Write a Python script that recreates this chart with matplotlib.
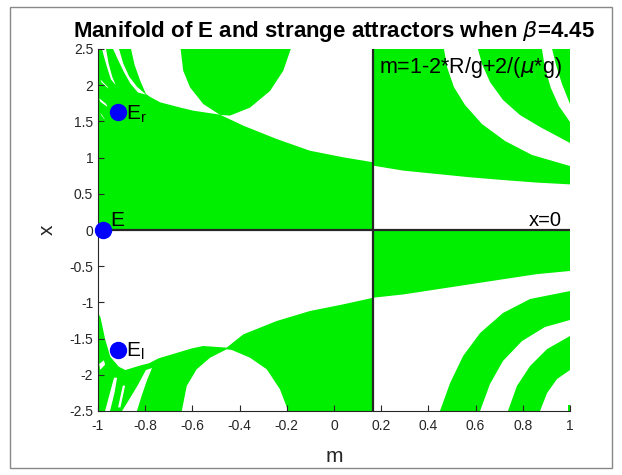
import matplotlib
matplotlib.use("Agg")
import matplotlib.pyplot as plt
from matplotlib.patches import Polygon, Rectangle

plt.rcParams['font.family'] = ['Liberation Sans', 'DejaVu Sans']
plt.rcParams['axes.unicode_minus'] = False

GREEN = '#00ee00'
DARK = '#262626'

# outlines of the regions as (m, x) pairs
upper_left_green = [(-1, 0), (-1, 2.5), (-0.860, 2.5), (-0.845, 2.28), (-0.822, 2.07),
                    (-0.797, 1.88), (-0.780, 1.84), (-0.737, 1.764), (-0.65, 1.69),
                    (-0.596, 1.648), (-0.483, 1.593), (-0.384, 1.441), (-0.243, 1.257),
                    (-0.102, 1.095), (0.039, 1.004), (0.167, 0.935), (0.167, 0)]
upper_bowl_green = [(-0.650, 2.5), (-0.639, 2.20), (-0.610, 1.97), (-0.554, 1.74),
                    (-0.483, 1.59), (-0.441, 1.58), (-0.356, 1.69), (-0.271, 1.92),
                    (-0.215, 2.20), (-0.183, 2.5)]
upper_right_green = [(0.167, 2.5), (1, 2.5), (1, 0.63), (0.859, 0.655), (0.717, 0.69),
                     (0.576, 0.728), (0.435, 0.774), (0.294, 0.82), (0.167, 0.888)]
lower_left_green = [(-1, -2.5), (-1, -1.15), (-0.99, -1.2), (-0.969, -1.519),
                    (-0.948, -1.75), (-0.912, -1.888), (-0.884, -1.934), (-0.814, -1.865),
                    (-0.785, -1.842), (-0.743, -1.772), (-0.672, -1.703), (-0.602, -1.635),
                    (-0.554, -1.602), (-0.455, -1.625), (-0.384, -1.441), (-0.243, -1.257),
                    (-0.102, -1.119), (0.039, -1.027), (0.167, -0.935), (0.167, -2.5)]
lower_right_band = [(0.167, 0), (1, 0), (1, -0.566), (0.859, -0.61), (0.717, -0.68),
                    (0.576, -0.75), (0.435, -0.82), (0.294, -0.89), (0.167, -0.935)]
lower_arc_a = [(0.449, -2.5), (0.492, -2.113), (0.547, -1.740), (0.619, -1.423),
               (0.716, -1.146), (0.831, -0.953), (1.0, -0.843), (1.0, -1.243),
               (0.894, -1.340), (0.797, -1.533), (0.716, -1.809), (0.661, -2.127),
               (0.619, -2.5)]
lower_arc_b = [(0.737, -2.5), (0.775, -2.155), (0.831, -1.878), (0.903, -1.644),
               (1.0, -1.464), (1.0, -1.934), (0.945, -2.058), (0.903, -2.251),
               (0.873, -2.5)]
corner_green = [(0.99, -2.5), (1.0, -2.5), (1.0, -2.42), (0.99, -2.42)]

upper_stripe_a = [(-0.983, 2.5), (-0.966, 2.5), (-0.955, 2.30), (-0.940, 2.12),
                  (-0.925, 2.0), (-0.945, 2.08), (-0.962, 2.25), (-0.975, 2.40)]
upper_stripe_b = [(-0.936, 2.5), (-0.911, 2.5), (-0.893, 2.30), (-0.868, 2.12),
                  (-0.835, 1.98), (-0.797, 1.87), (-0.831, 1.90), (-0.862, 2.02),
                  (-0.89, 2.18), (-0.915, 2.35)]
upper_specks = [[(-0.99, 2.08), (-0.96, 1.98), (-0.955, 1.95), (-0.985, 2.04)],
                [(-0.995, 1.82), (-0.965, 1.74), (-0.96, 1.70), (-0.99, 1.77)],
                [(-0.99, 1.62), (-0.975, 1.55), (-0.97, 1.52), (-0.985, 1.58)]]
upper_arc_1 = [(0.466, 2.5), (0.479, 2.251), (0.508, 1.975), (0.555, 1.727), (0.627, 1.464),
               (0.725, 1.229), (0.839, 1.036), (1.0, 0.884), (1.0, 1.202), (0.873, 1.423),
               (0.788, 1.588), (0.716, 1.796), (0.661, 2.044), (0.627, 2.293), (0.610, 2.5)]
upper_arc_2 = [(0.881, 2.5), (0.894, 2.238), (0.919, 1.961), (0.953, 1.713), (1.0, 1.492),
               (1.0, 1.740), (0.966, 2.017), (0.941, 2.279), (0.924, 2.5)]
lower_arch = [(-0.645, -2.5), (-0.624, -2.155), (-0.582, -1.924), (-0.525, -1.764),
              (-0.455, -1.648), (-0.433, -1.657), (-0.356, -1.764), (-0.285, -1.924),
              (-0.229, -2.2), (-0.194, -2.5)]
lower_stripe_d = [(-0.898, -2.5), (-0.835, -2.5), (-0.814, -2.279), (-0.792, -2.072),
                  (-0.771, -1.906), (-0.797, -1.934), (-0.831, -2.141), (-0.864, -2.320)]
lower_stripe_e = [(-0.970, -2.5), (-0.949, -2.5), (-0.93, -2.25), (-0.919, -2.04),
                  (-0.932, -2.04), (-0.952, -2.28)]
lower_specks = [[(-0.915, -2.45), (-0.905, -2.45), (-0.885, -2.15), (-0.895, -2.15)],
                [(-0.995, -1.85), (-0.975, -1.80), (-0.97, -1.86), (-0.99, -1.93)]]

green_regions = [upper_left_green, upper_bowl_green, upper_right_green, lower_left_green,
                 lower_right_band, lower_arc_a, lower_arc_b, corner_green]
white_regions = [upper_stripe_a, upper_stripe_b, upper_arc_1, upper_arc_2, lower_arch,
                 lower_stripe_d, lower_stripe_e] + upper_specks + lower_specks

# equilibrium points
eq_names = ['E', r'E$_\mathregular{r}$', r'E$_\mathregular{l}$']
eq_m = [-0.977, -0.915, -0.915]
eq_x = [0.0, 1.626, -1.657]

m_line = 0.167
x_ticks = [-1, -0.8, -0.6, -0.4, -0.2, 0, 0.2, 0.4, 0.6, 0.8, 1]
x_labels = ['-1', '-0.8', '-0.6', '-0.4', '-0.2', '0', '0.2', '0.4', '0.6', '0.8', '1']
y_ticks = [-2.5, -2, -1.5, -1, -0.5, 0, 0.5, 1, 1.5, 2, 2.5]
y_labels = ['-2.5', '-2', '-1.5', '-1', '-0.5', '0', '0.5', '1', '1.5', '2', '2.5']

fig = plt.figure(figsize=(6.22, 4.75), dpi=100)
ax = fig.add_axes([98/622, 64/475, 472/622, 362/475])

for pts in green_regions:
    ax.add_patch(Polygon(pts, closed=True, fc=GREEN, ec='none'))
for pts in white_regions:
    ax.add_patch(Polygon(pts, closed=True, fc='white', ec='none'))

ax.plot([-1, 1], [0, 0], color=DARK, lw=1.6)
ax.plot([m_line, m_line], [-2.5, 2.5], color=DARK, lw=1.6)

ax.plot(eq_m, eq_x, 'o', color='#0000ff', ms=11.5, clip_on=False, zorder=5)
ax.text(-0.95, 0.05, eq_names[0], fontsize=15, zorder=6)
ax.text(-0.88, 1.53, eq_names[1], fontsize=15, zorder=6)
ax.text(-0.88, -1.75, eq_names[2], fontsize=15, zorder=6)

ax.text(0.19, 2.17, r'm=1-2*R/g+2/($\mu$*g)', fontsize=15.5)
ax.text(0.966, 0.06, 'x=0', fontsize=14.5, ha='right')

ax.set_xlim(-1, 1)
ax.set_ylim(-2.5, 2.5)
ax.set_xticks(x_ticks)
ax.set_xticklabels(x_labels)
ax.set_yticks(y_ticks)
ax.set_yticklabels(y_labels)
ax.tick_params(direction='in', length=4, width=0.8, colors=DARK, labelsize=10)
ax.tick_params(axis='x', pad=6)
for s in ['top', 'right']:
    ax.spines[s].set_visible(False)
for s in ['left', 'bottom']:
    ax.spines[s].set_color(DARK)
    ax.spines[s].set_linewidth(0.8)

ax.set_xlabel('m', fontsize=15, color=DARK)
ax.set_ylabel('x', fontsize=15, color=DARK)
ax.xaxis.set_label_coords(0.5, -0.1)
ax.yaxis.set_label_coords(-0.087, 0.5)
ax.set_title(r'Manifold of E and strange attractors when $\beta$=4.45',
             fontsize=16, fontweight='bold', pad=9)

fig.add_artist(Rectangle((10/622, 7/475), 602/622, 461/475, transform=fig.transFigure,
                         fill=False, ec='#888888', lw=1))

fig.savefig('out.png', dpi=100)
